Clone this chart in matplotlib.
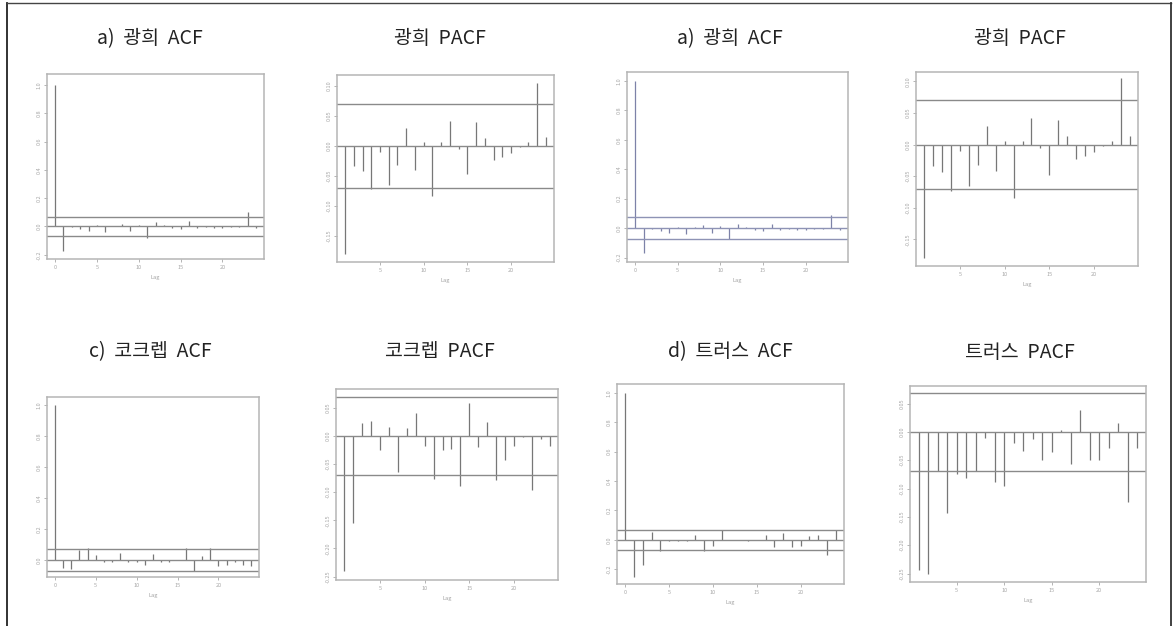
import numpy as np
import matplotlib
matplotlib.use('Agg')
import matplotlib.pyplot as plt
from matplotlib.lines import Line2D

plt.rcParams['font.family'] = ['Noto Sans CJK KR', 'DejaVu Sans']

W, H = 1173, 626

# panel titles
titles = ['a) 광희 ACF', '광희 PACF', 'a) 광희 ACF', '광희 PACF',
          'c) 코크렙 ACF', '코크렙 PACF', 'd) 트러스 ACF', '트러스 PACF']

# ACF values, lags 0..24
acf_kwang = [1.0, -0.176, -0.005, -0.02, -0.03, 0.01, -0.04, 0.005, 0.02, -0.03,
             0.01, -0.08, 0.03, 0.01, -0.01, -0.02, 0.04, -0.01, -0.005, -0.01,
             -0.01, -0.005, -0.005, 0.10, -0.01]
acf_kwang_b = [1.0, -0.17, -0.005, -0.02, -0.035, 0.01, -0.04, 0.005, 0.02, -0.03,
               0.015, -0.075, 0.025, 0.01, -0.01, -0.02, 0.03, -0.01, -0.005, -0.01,
               -0.01, -0.005, -0.005, 0.09, -0.01]
acf_kokrep = [1.0, -0.05, -0.06, 0.065, 0.08, 0.03, -0.01, -0.01, 0.045, -0.01,
              -0.01, -0.03, 0.04, -0.01, -0.01, 0.0, 0.08, -0.07, 0.025, 0.075,
              -0.04, -0.03, -0.01, -0.03, -0.04]
acf_truss = [1.0, -0.25, -0.17, 0.052, -0.073, -0.005, -0.01, -0.01, 0.034, -0.073,
             -0.04, 0.068, 0.0, 0.0, -0.01, 0.0, 0.034, -0.045, 0.045, -0.045,
             -0.04, 0.027, 0.03, -0.10, 0.064]

# PACF values, lags 1..24
pacf_kwang = [-0.18, -0.034, -0.043, -0.073, -0.01, -0.065, -0.032, 0.029, -0.041, 0.006,
              -0.084, 0.006, 0.042, -0.006, -0.048, 0.039, 0.013, -0.023, -0.018, -0.012,
              -0.002, 0.006, 0.105, 0.014]
pacf_kokrep = [-0.24, -0.155, 0.022, 0.027, -0.026, 0.015, -0.065, 0.014, 0.041, -0.018,
               -0.077, -0.025, -0.024, -0.089, 0.059, -0.02, 0.024, -0.078, -0.043, -0.019,
               -0.002, -0.096, -0.005, -0.018]
pacf_truss = [-0.243, -0.251, -0.069, -0.143, -0.074, -0.082, -0.069, -0.01, -0.088, -0.096,
              -0.019, -0.034, -0.012, -0.05, -0.035, 0.003, -0.057, 0.038, -0.049, -0.049,
              -0.028, 0.016, -0.124, -0.028]

series = [acf_kwang, pacf_kwang, acf_kwang_b, pacf_kwang,
          acf_kokrep, pacf_kokrep, acf_truss, pacf_truss]
is_acf = [True, False, True, False, True, False, True, False]
ci = [0.07, 0.07, 0.073, 0.07, 0.068, 0.069, 0.068, 0.069]
ylims = [(-0.23, 1.078), (-0.194, 0.118), (-0.23, 1.06), (-0.192, 0.115),
         (-0.11, 1.054), (-0.256, 0.083), (-0.30, 1.06), (-0.265, 0.081)]
acf_ticks = [-0.2, 0.0, 0.2, 0.4, 0.6, 0.8, 1.0]
pacf_ticks_top = [-0.15, -0.10, -0.05, 0.00, 0.05, 0.10]
pacf_ticks_bot = [-0.25, -0.20, -0.15, -0.10, -0.05, 0.00, 0.05]
yticks = [acf_ticks, pacf_ticks_top, acf_ticks, pacf_ticks_top,
          acf_ticks[1:], pacf_ticks_bot, acf_ticks, pacf_ticks_bot]

# plot boxes in pixels: left, top, right, bottom
boxes = [(47, 74, 264, 259), (337, 75, 554, 262), (627, 72, 848, 262), (916, 72, 1138, 266),
         (47, 397, 259, 577), (336, 389, 558, 580), (617, 384, 844, 584), (910, 386, 1146, 582)]
title_pos = [(150, 39), (440, 39), (730, 39), (1020, 39),
             (150, 352), (440, 352), (730, 352), (1020, 352)]

fig = plt.figure(figsize=(W / 100, H / 100), dpi=100)

# outer frame (open at the bottom)
fig.add_artist(Line2D([6.5 / W, 6.5 / W], [0, 1 - 3 / H], transform=fig.transFigure,
                      color='#222222', lw=1.3))
fig.add_artist(Line2D([6.5 / W, 1171 / W], [1 - 3 / H, 1 - 3 / H], transform=fig.transFigure,
                      color='#444444', lw=1.0))
fig.add_artist(Line2D([1171 / W, 1171 / W], [0, 1 - 3 / H], transform=fig.transFigure,
                      color='#333333', lw=1.3))

for i in range(8):
    l, t, r, b = boxes[i]
    ax = fig.add_axes([l / W, 1 - b / H, (r - l) / W, (b - t) / H])
    vals = np.array(series[i])
    if is_acf[i]:
        lags = np.arange(0, len(vals))
        ax.set_xlim(-0.96, 24.96)
        ax.set_xticks([0, 5, 10, 15, 20])
    else:
        lags = np.arange(1, len(vals) + 1)
        ax.set_xlim(0.08, 24.92)
        ax.set_xticks([5, 10, 15, 20])
    line_col = '#8e93b5' if i == 2 else '#8a8a8a'
    spike_col = '#7d82a8' if i == 2 else '#777777'
    ax.vlines(lags, 0, vals, color=spike_col, lw=0.9)
    ax.axhline(0, color=line_col, lw=1.0)
    ax.axhline(ci[i], color=line_col, lw=1.0)
    ax.axhline(-ci[i], color=line_col, lw=1.0)
    ax.set_ylim(*ylims[i])
    ax.set_yticks(yticks[i])
    ax.set_yticklabels(['%.1f' % v if is_acf[i] else '%.2f' % v for v in yticks[i]],
                       rotation=90, va='center')
    ax.tick_params(labelsize=4, colors='#a8a8a8', length=2, width=0.6, pad=2)
    ax.set_xlabel('Lag', fontsize=4, color='#a0a0a0', labelpad=4)
    for s in ax.spines.values():
        s.set_color('#b5b5b5')
        s.set_linewidth(1.1)
    x, y = title_pos[i]
    # the original titles use wide word gaps
    fig.text(x / W, 1 - y / H, titles[i].replace(' ', '  '), ha='center', va='center',
             fontsize=14, color='#222222')

fig.savefig('out.png', dpi=100)
